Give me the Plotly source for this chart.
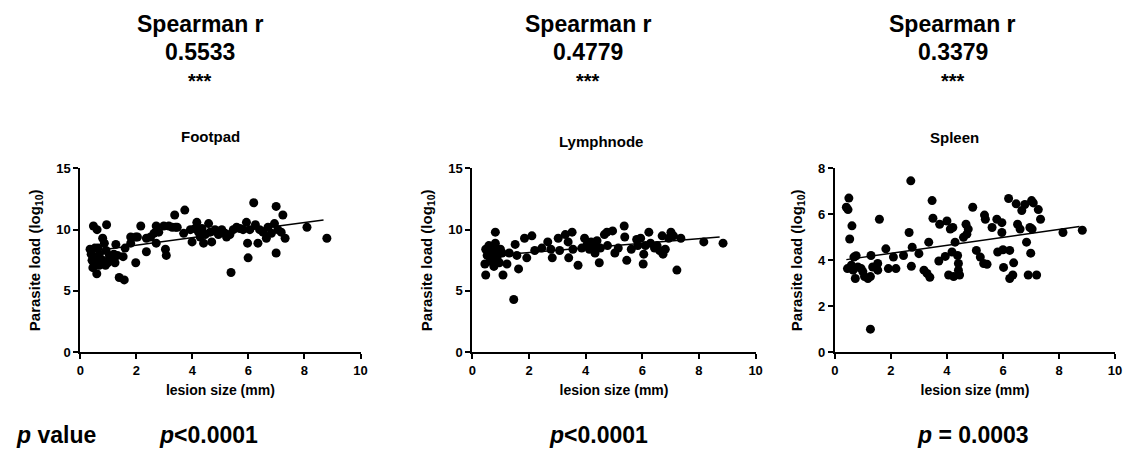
import plotly.graph_objects as go

# ---------------- data ----------------
footpad_x = [0.47, 0.6, 0.94, 0.39, 0.42, 0.52, 0.63, 0.59, 0.68, 0.8, 0.8, 0.86, 0.92, 0.98, 1.06,
             1.16, 1.2, 1.27, 1.24, 1.33, 1.39, 1.57, 1.53, 1.6, 0.45, 0.35, 0.68, 0.74, 0.5, 0.9,
             1.04, 0.62, 1.8, 1.8, 1.98, 2.04, 1.98, 2.16, 2.36, 2.36, 2.51, 2.63, 2.71, 2.71, 2.8,
             2.98, 3.04, 3.07, 3.16, 3.28, 3.37, 3.4, 3.46, 3.73, 3.69, 3.93, 3.99, 4.1, 4.16, 4.22,
             4.28, 4.34, 4.4, 4.46, 4.58, 4.63, 4.69, 4.81, 4.93, 5.05, 5.17, 5.22, 5.34, 5.38, 5.46,
             5.58, 5.7, 5.81, 5.93, 5.97, 5.99, 6.05, 6.19, 6.25, 6.34, 6.4, 6.52, 6.64, 6.7, 6.82,
             6.93, 6.99, 6.99, 7.05, 7.17, 7.23, 7.31, 8.09, 8.8]
footpad_y = [10.3, 10.0, 10.4, 8.0, 7.5, 8.5, 8.5, 6.4, 7.1, 7.5, 9.3, 8.9, 8.3, 7.3, 7.5,
             7.7, 8.0, 8.8, 7.3, 7.9, 6.1, 5.9, 7.8, 8.5, 6.9, 8.4, 8.0, 7.5, 7.2, 7.1,
             7.9, 7.7, 9.4, 8.9, 9.4, 9.4, 7.3, 10.3, 9.3, 8.2, 9.4, 9.7, 10.3, 8.9, 9.8,
             10.3, 8.4, 7.9, 10.3, 10.2, 11.2, 10.2, 10.2, 11.6, 9.7, 10.0, 9.0, 10.1, 10.6, 9.8,
             9.4, 10.1, 8.9, 9.6, 10.5, 9.8, 9.0, 10.0, 9.6, 10.0, 9.7, 9.4, 9.6, 6.5, 10.0,
             10.2, 10.1, 10.0, 10.6, 8.9, 7.7, 10.0, 12.2, 10.4, 8.9, 10.0, 9.8, 9.3, 10.2, 9.7,
             10.5, 11.9, 8.1, 10.0, 9.8, 11.2, 9.3, 10.2, 9.3]
footpad_fit_x = [0.47, 8.68]
footpad_fit_y = [8.25, 10.8]

lymph_x = [0.47, 0.44, 0.47, 0.52, 0.58, 0.64, 0.7, 0.76, 0.81, 0.81, 0.87, 0.93, 0.95, 1.05, 1.08,
           1.22, 1.3, 1.46, 1.51, 1.57, 1.63, 1.84, 1.92, 2.1, 2.2, 2.45, 2.66, 2.77, 2.82, 3.03,
           3.08, 3.28, 3.38, 3.4, 3.52, 3.55, 3.73, 3.86, 3.96, 4.05, 4.13, 4.19, 4.28, 4.33, 4.4,
           4.48, 4.52, 4.66, 4.75, 4.77, 4.95, 5.03, 5.15, 5.36, 5.38, 5.45, 5.61, 5.8, 5.84, 5.94,
           6.03, 6.05, 6.11, 6.23, 6.29, 6.43, 6.52, 6.61, 6.7, 6.73, 6.81, 6.93, 7.01, 7.1, 7.22,
           7.36, 8.17, 8.85, 0.62, 0.84, 0.99, 0.72, 0.87]
lymph_y = [8.4, 7.2, 6.3, 7.9, 8.7, 7.6, 8.2, 7.0, 9.8, 8.9, 7.9, 8.4, 7.3, 8.1, 6.3,
           7.2, 8.1, 4.3, 8.8, 7.9, 6.8, 9.3, 7.7, 9.5, 8.3, 8.5, 9.0, 8.4, 7.7, 9.3,
           8.3, 9.6, 9.0, 7.7, 9.8, 8.4, 7.1, 8.5, 9.3, 8.8, 8.4, 9.0, 8.7, 8.1, 9.1,
           7.3, 8.5, 9.6, 9.8, 8.7, 9.9, 8.1, 8.5, 10.3, 9.4, 7.5, 8.4, 9.2, 8.7, 9.3,
           7.2, 8.0, 8.7, 9.8, 8.9, 8.5, 8.7, 8.3, 9.5, 8.0, 8.4, 9.3, 9.8, 9.5, 6.7,
           9.3, 9.0, 8.9, 7.8, 8.4, 8.4, 7.3, 7.7]
lymph_fit_x = [0.5, 8.73]
lymph_fit_y = [7.85, 9.4]

spleen_x = [0.41, 0.5, 0.47, 0.61, 0.53, 0.68, 0.76, 0.45, 0.59, 0.65, 0.73, 0.82, 0.94, 1.0, 1.06,
            1.18, 1.27, 1.29, 1.27, 1.35, 1.53, 1.53, 1.59, 1.82, 1.91, 2.09, 2.18, 2.45, 2.65, 2.71,
            2.73, 2.76, 3.0, 3.18, 3.29, 3.39, 3.35, 3.47, 3.5, 3.74, 3.71, 3.94, 4.0, 4.06, 4.12,
            4.21, 4.18, 4.24, 4.29, 4.38, 4.41, 4.41, 4.45, 4.59, 4.68, 4.71, 4.76, 4.92, 5.05, 5.19,
            5.31, 5.43, 5.34, 5.37, 5.61, 5.78, 5.81, 5.96, 5.96, 6.0, 6.02, 6.2, 6.24, 6.24, 6.35,
            6.38, 6.47, 6.52, 6.61, 6.67, 6.78, 6.84, 6.9, 6.99, 6.96, 7.02, 7.08, 7.04, 7.2, 7.26,
            7.34, 8.14, 8.83]
spleen_y = [6.31, 6.71, 6.21, 5.5, 4.93, 4.14, 4.2, 3.64, 3.79, 3.57, 3.21, 3.71, 3.64, 3.5, 3.29,
            3.21, 3.29, 4.21, 1.0, 3.71, 3.86, 3.57, 5.79, 4.5, 3.64, 4.14, 3.64, 4.21, 5.21, 7.46,
            3.74, 4.57, 4.29, 3.57, 3.43, 3.26, 4.79, 6.6, 5.83, 5.57, 3.97, 4.17, 5.71, 3.36, 5.36,
            5.43, 4.36, 3.29, 4.79, 4.21, 3.86, 3.57, 3.36, 5.0, 5.57, 5.14, 5.36, 6.31, 4.43, 4.14,
            3.86, 3.83, 5.97, 5.79, 5.43, 5.79, 4.36, 5.64, 5.21, 4.46, 3.69, 6.69, 4.43, 3.21, 3.36,
            3.89, 6.46, 5.57, 5.36, 6.17, 6.43, 4.79, 3.36, 4.31, 5.43, 6.6, 6.5, 5.36, 3.36, 6.21,
            5.79, 5.21, 5.31]
spleen_fit_x = [0.41, 8.73]
spleen_fit_y = [4.03, 5.47]

panel_titles = ["Footpad", "Lymphnode", "Spleen"]
spearman_r = ["0.5533", "0.4779", "0.3379"]
p_texts = ["<i>p</i><0.0001", "<i>p</i><0.0001", "<i>p</i> = 0.0003"]
y_ranges = [[0, 15], [0, 15], [0, 8]]
y_dticks = [5, 5, 2]

# ---------------- figure ----------------
W, H = 1132, 452
FONT = "Liberation Sans, Arial, sans-serif"

fig = go.Figure()

x_domains = [[77 / W, 360 / W], [473 / W, 759 / W], [839 / W, 1122 / W]]
y_domain = [1 - 357 / H, 1 - 167 / H]

series = [
    (footpad_x, footpad_y, footpad_fit_x, footpad_fit_y),
    (lymph_x, lymph_y, lymph_fit_x, lymph_fit_y),
    (spleen_x, spleen_y, spleen_fit_x, spleen_fit_y),
]

for i, (sx, sy, fx, fy) in enumerate(series):
    xa = "x" if i == 0 else f"x{i+1}"
    ya = "y" if i == 0 else f"y{i+1}"
    fig.add_trace(go.Scatter(x=sx, y=sy, mode="markers", xaxis=xa, yaxis=ya,
                             marker=dict(color="black", size=9, line=dict(width=0)),
                             cliponaxis=False, showlegend=False))
    fig.add_trace(go.Scatter(x=fx, y=fy, mode="lines", xaxis=xa, yaxis=ya,
                             line=dict(color="black", width=1.5),
                             showlegend=False))

axis_common = dict(showline=True, linecolor="black", linewidth=2, ticks="outside",
                   ticklen=5, tickwidth=2, tickcolor="black", showgrid=False, zeroline=False,
                   tickfont=dict(family=FONT, size=13, color="black", weight="bold"))

layout = dict(width=W, height=H, margin=dict(l=0, r=0, t=0, b=0),
              paper_bgcolor="white", plot_bgcolor="white", showlegend=False)

for i in range(3):
    xk = "xaxis" if i == 0 else f"xaxis{i+1}"
    yk = "yaxis" if i == 0 else f"yaxis{i+1}"
    xa = "x" if i == 0 else f"x{i+1}"
    ya = "y" if i == 0 else f"y{i+1}"
    layout[xk] = dict(domain=x_domains[i], range=[0, 10], dtick=2, tick0=0, anchor=ya,
                      title=dict(text="lesion size (mm)", standoff=8,
                                 font=dict(family=FONT, size=14, color="black", weight="bold")),
                      **axis_common)
    layout[yk] = dict(domain=y_domain, range=y_ranges[i], dtick=y_dticks[i], tick0=0, anchor=xa,
                      title=dict(text="Parasite load (log<sub>10</sub>)", standoff=12,
                                 font=dict(family=FONT, size=15, color="black", weight="bold")),
                      **axis_common)

fig.update_layout(**layout)


def note(x_px, y_px, text, size, xanchor="center"):
    fig.add_annotation(x=x_px / W, y=1 - y_px / H, xref="paper", yref="paper",
                       xanchor=xanchor, yanchor="middle", text=text, showarrow=False,
                       font=dict(family=FONT, size=size, color="black"))


# header annotations
title_cx = [198, 590, 958]
panel_cx = [209, 603, 960]
panel_cy = [134, 139, 135]
for i in range(3):
    note(title_cx[i], 18, "<b>Spearman r</b>", 23)
    note(title_cx[i], 47, f"<b>{spearman_r[i]}</b>", 23)
    note(title_cx[i], 77, "<b>***</b>", 20)
    note(panel_cx[i], panel_cy[i], f"<b>{panel_titles[i]}</b>", 15)

# bottom p-values
p_left = [155, 548, 920]
note(10, 443, "<b><i>p</i> value</b>", 23, xanchor="left")
for i in range(3):
    note(p_left[i], 443, f"<b>{p_texts[i]}</b>", 23, xanchor="left")

fig.write_html("out.html")
